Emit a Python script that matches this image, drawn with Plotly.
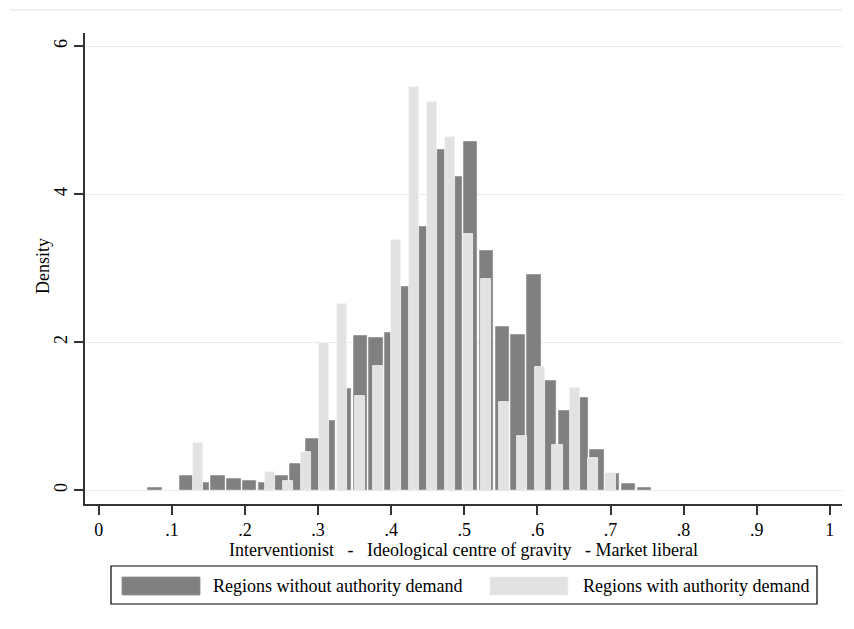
import plotly.graph_objects as go

# Histogram densities per bin (regions without / with authority demand)
dark_density = [0.03, 0.0, 0.20, 0.10, 0.20, 0.15, 0.13, 0.10, 0.20, 0.36,
                0.69, 0.93, 1.37, 2.08, 2.06, 2.13, 2.75, 3.56, 4.60, 4.24,
                4.71, 3.24, 2.21, 2.10, 2.91, 1.48, 1.07, 1.25, 0.55, 0.22,
                0.08, 0.03]
light_density = [0.645, 0.0, 0.0, 0.0, 0.25, 0.13, 0.52, 1.99, 2.52, 1.27,
                 1.68, 3.38, 5.45, 5.25, 4.78, 3.47, 2.86, 1.20, 0.74, 1.67,
                 0.61, 1.38, 0.44, 0.24]

# Bin definitions (start of first bin, bin width)
dark_start, dark_bin = 0.066, 0.0216
light_start, light_bin = 0.1238, 0.02457

x_ticks = [0, 0.1, 0.2, 0.3, 0.4, 0.5, 0.6, 0.7, 0.8, 0.9, 1.0]
x_tick_text = ["0", ".1", ".2", ".3", ".4", ".5", ".6", ".7", ".8", ".9", "1"]
y_ticks = [0, 2, 4, 6]
y_tick_text = ["0", "2", "4", "6"]

series_names = ["Regions without authority demand", "Regions with authority demand"]

DARK = "#808080"
LIGHT = "#e2e2e2"
GRID = "#e6eeee"
AXIS = "#333333"
FONT = "Liberation Serif"
FS = 18


def nonempty(start, width, dens):
    """Bin centres and densities for the bins that hold observations."""
    xs, ys = [], []
    for k, d in enumerate(dens):
        if d > 0:
            xs.append(start + width * (k + 0.5))
            ys.append(d)
    return xs, ys


dark_x, dark_y = nonempty(dark_start, dark_bin, dark_density)
light_x, light_y = nonempty(light_start, light_bin, light_density)

fig = go.Figure()
fig.add_trace(go.Bar(
    x=dark_x, y=dark_y, width=dark_bin * 0.84,
    marker=dict(color=DARK, line=dict(color="#8e8e8e", width=0.8)),
    name=series_names[0], showlegend=False,
))
fig.add_trace(go.Bar(
    x=light_x, y=light_y, width=light_bin * 0.56,
    marker=dict(color=LIGHT, line=dict(color="#f4f4f4", width=0.8)),
    name=series_names[1], showlegend=False,
))

W, H = 854, 629
L, R, T, B = 85, 842, 33, 504


def px(x):
    return (x - L) / (R - L)


def py(y):
    return (B - y) / (B - T)


shapes = [
    # faint frame line across the top of the graph region
    dict(type="line", xref="paper", yref="paper", x0=px(10), x1=px(842),
         y0=py(10), y1=py(10), line=dict(color=GRID, width=1.5)),
    # legend box
    dict(type="rect", xref="paper", yref="paper", x0=px(111), x1=px(817),
         y0=py(604), y1=py(566), line=dict(color="#000000", width=1.2),
         fillcolor="white"),
    dict(type="rect", xref="paper", yref="paper", x0=px(122), x1=px(200),
         y0=py(595), y1=py(577), line=dict(color="#8e8e8e", width=0.8),
         fillcolor=DARK),
    dict(type="rect", xref="paper", yref="paper", x0=px(490), x1=px(568),
         y0=py(595), y1=py(577), line=dict(color="#f0f0f0", width=0.8),
         fillcolor=LIGHT),
]

annotations = [
    dict(text=series_names[0], xref="paper", yref="paper", x=px(211), y=py(586),
         xanchor="left", yanchor="middle", showarrow=False,
         font=dict(family=FONT, size=FS, color="#000000")),
    dict(text=series_names[1], xref="paper", yref="paper", x=px(581), y=py(586),
         xanchor="left", yanchor="middle", showarrow=False,
         font=dict(family=FONT, size=FS, color="#000000")),
    # y-axis title
    dict(text="Density", xref="paper", yref="paper", x=px(43), y=py(266),
         xanchor="center", yanchor="middle", textangle=-90, showarrow=False,
         font=dict(family=FONT, size=FS, color="#000000")),
]

sp = "\u00a0"
x_title = ("Interventionist" + sp * 3 + "-" + sp * 3 + "Ideological centre of gravity"
           + sp * 3 + "-" + sp + "Market liberal")

fig.update_layout(
    width=W, height=H,
    margin=dict(l=L, r=W - R, t=T, b=H - B),
    paper_bgcolor="white", plot_bgcolor="white",
    barmode="overlay", bargap=0,
    font=dict(family=FONT, size=FS, color="#000000"),
    shapes=shapes, annotations=annotations,
    xaxis=dict(
        range=[(L - 98.8) / 731, (R - 98.8) / 731],
        tickvals=x_ticks, ticktext=x_tick_text,
        showgrid=False, zeroline=False,
        showline=True, linecolor=AXIS, linewidth=1.5,
        ticks="outside", ticklen=9, tickwidth=1.5, tickcolor=AXIS,
        tickfont=dict(family=FONT, size=FS),
        title=dict(text=x_title, standoff=0, font=dict(family=FONT, size=FS)),
    ),
    yaxis=dict(
        range=[-(B - 490.3) / 74.0, (490.3 - T) / 74.0],
        tickvals=y_ticks, ticktext=y_tick_text, tickangle=-90,
        showgrid=True, gridcolor=GRID, gridwidth=1,
        zeroline=True, zerolinecolor=GRID, zerolinewidth=1,
        showline=True, linecolor=AXIS, linewidth=1.5,
        ticks="outside", ticklen=9, tickwidth=1.5, tickcolor=AXIS,
        tickfont=dict(family=FONT, size=FS),
    ),
)

fig.write_html("out.html")
